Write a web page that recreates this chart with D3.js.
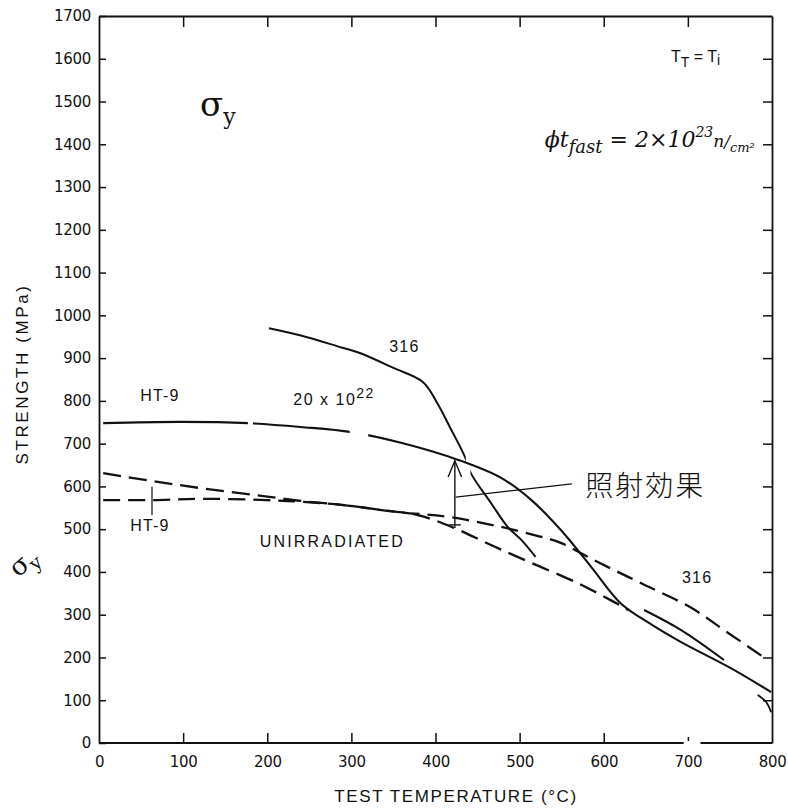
<!DOCTYPE html>
<html><head><meta charset="utf-8">
<script src="https://cdn.jsdelivr.net/npm/d3@7"></script>
<style>body{margin:0;background:#fff}</style>
</head><body>
<svg id="c" width="788" height="811"></svg>
<script>
// ---- data (temperature °C, strength MPa) ----
const xTicks = [0,100,200,300,400,500,600,700,800];
const yTicks = [0,100,200,300,400,500,600,700,800,900,1000,1100,1200,1300,1400,1500,1600,1700];
const topTicks = [100,200,300,400,500,600,700];

// HT-9 irradiated 20x10^22 (solid, with two breaks)
const ht9Irr = [[5,748],[97,751],[177,748],[240,739],[300,727],[359,702],[427,662],[478,620],[514,568],[549,498],[585,412],[620,327],[656,278],[692,236],[751,175],[799,119]];
const ht9IrrGaps = [[177,183],[298,320]];
// 316 irradiated (solid, break where it crosses HT-9)
const s316Irr = [[202,970],[240,953],[288,925],[310,912],[350,877],[385,844],[402,795],[417,739],[435,669],[442,631],[466,561],[486,505],[502,475],[519,435]];
const s316IrrGaps = [[436,441.5]];
// short solid segment at high temperature
const s316IrrHigh = [[648,311],[692,264],[743,194]];
// hook at 800 °C
const hook = [[783,112],[793,96],[799,72]];
// HT-9 unirradiated (dashed)
const ht9Unirr = [[5,631],[62,613],[121,596],[193,578],[240,566],[288,557],[335,545],[379,533],[422,503],[466,463],[514,421],[569,374],[612,330],[629,311]];
// 316 unirradiated (dashed)
const s316Unirr = [[5,568],[62,568],[121,571],[199,568],[240,564],[288,557],[355,540],[415,529],[474,507],[522,484],[549,468],[588,428],[644,374],[704,316],[743,264],[795,194]];

const svg = d3.select('#c');
const W = 788, H = 811;
svg.append('rect').attr('width',W).attr('height',H).attr('fill','#fff');
const defs = svg.append('defs');

const x = d3.scaleLinear().domain([0,800]).range([99,772]);
const y = d3.scaleLinear().domain([0,1700]).range([743,16]);
const ink = '#111';
const numFont = '"DejaVu Sans", sans-serif';
const lblFont = '"Liberation Sans", Arial, sans-serif';
const fmt = d3.format('d');

// ---- axes ----
const styleAxis = g => {
  g.selectAll('path.domain').attr('stroke', ink).attr('stroke-width', 1.8);
  g.selectAll('.tick line').attr('stroke', ink).attr('stroke-width', 1.5);
  g.selectAll('.tick text').attr('fill', ink).attr('font-family', numFont).attr('font-size', 15).attr('letter-spacing', -0.3);
};
svg.append('g').attr('transform',`translate(${x(0)},0)`)
  .call(d3.axisLeft(y).tickValues(yTicks).tickFormat(fmt).tickSizeInner(-7).tickSizeOuter(0).tickPadding(8))
  .call(styleAxis);
svg.append('g').attr('transform',`translate(${x(800)},0)`)
  .call(d3.axisRight(y).tickValues(yTicks.slice(1,-1)).tickSizeInner(-9).tickSizeOuter(0).tickFormat(''))
  .call(styleAxis);
svg.append('g').attr('transform',`translate(0,${y(1700)})`)
  .call(d3.axisTop(x).tickValues(topTicks).tickSizeInner(-11).tickSizeOuter(0).tickFormat(''))
  .call(styleAxis);
const bx = svg.append('g').attr('transform',`translate(0,${y(0)})`)
  .call(d3.axisBottom(x).tickValues(xTicks).tickFormat(fmt).tickSizeInner(-10).tickSizeOuter(0).tickPadding(13))
  .call(styleAxis);
// scan break in the bottom frame near 700
bx.select('path.domain').remove();
bx.append('line').attr('x1',x(0)).attr('x2',x(695)).attr('stroke',ink).attr('stroke-width',1.8);
bx.append('line').attr('x1',x(715)).attr('x2',x(800)).attr('stroke',ink).attr('stroke-width',1.8);
bx.selectAll('.tick').filter(d=>d===700).select('line').attr('y1',-6).attr('y2',-2);
bx.selectAll('.tick').filter(d=>d===0||d===800).select('line').remove();

// axis titles
svg.append('text').attr('x', 456).attr('y', 802).attr('text-anchor','middle')
  .attr('font-family', lblFont).attr('font-size', 17).attr('letter-spacing', 1.6).attr('fill', ink)
  .text('TEST TEMPERATURE (°C)');
svg.append('text').attr('transform','translate(28,374) rotate(-90)').attr('text-anchor','middle')
  .attr('font-family', lblFont).attr('font-size', 17).attr('letter-spacing', 2.6).attr('fill', ink)
  .text('STRENGTH (MPa)');

// ---- curves ----
const line = d3.line().x(d=>x(d[0])).y(d=>y(d[1])).curve(d3.curveCatmullRom.alpha(0.5));
let clipN = 0;
function series(data, dash, gaps, width){
  const p = svg.append('path').datum(data).attr('d', line)
    .attr('fill','none').attr('stroke', ink).attr('stroke-width', width || 2)
    .attr('stroke-linejoin','round');
  if (dash) p.attr('stroke-dasharray', dash);
  if (gaps && gaps.length){
    const id = 'clip' + (clipN++);
    const cp = defs.append('clipPath').attr('id', id);
    const edges = [-1000].concat(gaps.flat(), [1800]);
    for (let i = 0; i < edges.length; i += 2){
      cp.append('rect').attr('x', x(edges[i])).attr('y', 0)
        .attr('width', x(edges[i+1]) - x(edges[i])).attr('height', H);
    }
    p.attr('clip-path', `url(#${id})`);
  }
  return p;
}
series(ht9Irr, null, ht9IrrGaps, 2.1);
series(s316Irr, null, s316IrrGaps, 2);
series(s316IrrHigh, null, null, 2);
series(hook, null, null, 1.8);
series(ht9Unirr, '18,8', null, 2.3);
series(s316Unirr, '17,8', null, 2.3);

// ---- annotations ----
const lab = (dx, dy, txt, opts={}) => svg.append('text')
  .attr('x', x(dx)).attr('y', y(dy)).attr('text-anchor', opts.anchor || 'start')
  .attr('font-family', lblFont).attr('font-size', opts.size || 16)
  .attr('letter-spacing', opts.ls == null ? 1.2 : opts.ls).attr('fill', ink).text(txt);

lab(363, 914, '316', {anchor:'middle'});
lab(49, 800, 'HT-9');
const t20 = lab(231, 790, '20 x 10', {ls:1.5});
t20.append('tspan').attr('dy', -7).attr('font-size', 14).text('22');
lab(37, 496, 'HT-9');
lab(191, 458, 'UNIRRADIATED', {ls:2.2});
lab(693, 374, '316');

// HT-9 leader line
svg.append('line').attr('x1', x(63)).attr('x2', x(63)).attr('y1', y(599)).attr('y2', y(533))
  .attr('stroke', ink).attr('stroke-width', 1.2);

// irradiation effect arrow
svg.append('line').attr('x1', x(423)).attr('x2', x(423)).attr('y1', y(503)).attr('y2', y(660))
  .attr('stroke', ink).attr('stroke-width', 1.4);
svg.append('path').attr('d', `M${x(415)},${y(622)} L${x(423)},${y(660)} L${x(431)},${y(622)}`)
  .attr('fill','none').attr('stroke', ink).attr('stroke-width', 1.4);
svg.append('line').attr('x1', x(416)).attr('x2', x(430)).attr('y1', y(510)).attr('y2', y(510))
  .attr('stroke', ink).attr('stroke-width', 1.4);
svg.append('line').attr('x1', x(424)).attr('x2', x(562)).attr('y1', y(575)).attr('y2', y(606))
  .attr('stroke', ink).attr('stroke-width', 1.1);
svg.append('text').attr('x', x(578)).attr('y', y(577))
  .attr('font-family','"Noto Sans CJK JP", sans-serif').attr('font-size', 28).attr('font-weight', 300)
  .attr('letter-spacing', 2).attr('fill', ink).text('照射効果');

// T_T = T_i
const tt = svg.append('text').attr('x', x(680)).attr('y', y(1592))
  .attr('font-family', lblFont).attr('font-size', 16).attr('fill', ink);
tt.append('tspan').text('T');
tt.append('tspan').attr('dy', 5).attr('font-size', 14).text('T');
tt.append('tspan').attr('dy', -5).text('  =  T');
tt.append('tspan').attr('dy', 3).attr('font-size', 14).text('i');

// fluence (handwritten)
const hw = '"DejaVu Serif", serif';
const ft = svg.append('text').attr('x', x(530)).attr('y', y(1393))
  .attr('font-family', hw).attr('font-style','italic').attr('font-size', 22).attr('fill', ink);
ft.append('tspan').text('ϕt');
ft.append('tspan').attr('dy', 6).attr('font-size', 18).text('fast');
ft.append('tspan').attr('dy', -6).text(' = 2×10');
ft.append('tspan').attr('dy', -10).attr('font-size', 14).text('23');
ft.append('tspan').attr('dy', 10).attr('font-size', 17).text('n');
ft.append('tspan').attr('font-size', 17).text('/');
ft.append('tspan').attr('dy', 5).attr('font-size', 13).text('cm²');

// sigma_y handwritten labels
const sy = svg.append('text').attr('x', x(120)).attr('y', y(1465))
  .attr('font-family', hw).attr('font-size', 34).attr('fill', ink);
sy.append('tspan').text('σ');
sy.append('tspan').attr('dy', 8).attr('font-size', 22).text('y');
const sy2 = svg.append('text').attr('transform', 'translate(18,578) rotate(-40)')
  .attr('font-family', hw).attr('font-size', 26).attr('fill', ink);
sy2.append('tspan').text('σ');
sy2.append('tspan').attr('dy', 6).attr('font-size', 19).text('y');
</script>
</body></html>
